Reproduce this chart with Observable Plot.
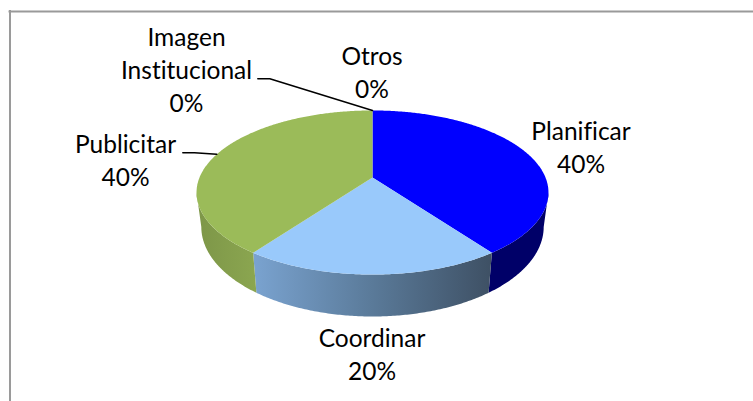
<!DOCTYPE html>
<html>
<head>
<meta charset="utf-8">
<script src="https://cdn.jsdelivr.net/npm/d3@7"></script>
<script src="https://cdn.jsdelivr.net/npm/@observablehq/plot@0.6"></script>
<style>
html,body{margin:0;padding:0;background:#fff;overflow:hidden}
svg{display:block}
svg text{font-variant-ligatures:none;font-weight:400}
</style>
</head>
<body>
<div id="chart"></div>
<script>
// Data
const categories = ["Planificar", "Coordinar", "Publicitar", "Imagen\nInstitucional", "Otros"];
const shares = [40, 20, 40, 0, 0];

// Styles
const topColors = ["#0000ff", "#99c9fb", "#9bbb59", "#7f7f7f", "#7f7f7f"];
const sideColors = ["#000068", "url(#sideCoordinar)", "url(#sidePublicitar)", "#555", "#555"];
const labelCenters = [[580.5, 145.2], [371.5, 352.2], [125, 158.5], [186, 68], [371.5, 70.5]];

// Perspective of the pie disc (page units)
const view = {cx: 372, k: 0.183,
  top: {cy: 177, a: 173, b: 79.3},
  bottom: {cy: 210, a: 168.3, b: 86.6}};
const project = (ring, t) => {
  const u = Math.sin(t), v = -Math.cos(t), w = 1 - view.k * v;
  return {x: view.cx + ring.a * u / w, y: ring.cy + ring.b * v / w};
};
const arcPoints = (ring, t0, t1) => {
  const n = Math.max(1, Math.ceil(Math.abs(t1 - t0) / 0.01));
  return d3.range(n + 1).map(i => project(ring, t0 + (t1 - t0) * i / n));
};

const arcs = d3.pie().sort(null).value(d => d)(shares);
const tMin = Math.acos(-view.k), tMax = 2 * Math.PI - tMin;

const sideMarks = [], topMarks = [];
arcs.forEach((a, i) => {
  if (a.value > 0) {
    const t0 = Math.max(a.startAngle, tMin), t1 = Math.min(a.endAngle, tMax);
    if (t1 > t0) {
      const side = [...arcPoints(view.top, t0, t1), ...arcPoints(view.bottom, t1, t0)];
      sideMarks.push(Plot.line(side, {x: "x", y: "y", fill: sideColors[i], stroke: "none"}));
    }
    const face = [{x: view.cx, y: view.top.cy}, ...arcPoints(view.top, a.startAngle, a.endAngle)];
    topMarks.push(Plot.line(face, {x: "x", y: "y", fill: topColors[i], stroke: "none"}));
  }
});

// Leader lines: from a label elbow to the middle of the slice's rim
const mid = i => project(view.top, (arcs[i].startAngle + arcs[i].endAngle) / 2);
const leaders = [
  [{x: 182.3, y: 152.3}, {x: 194, y: 152.3}, mid(2)],
  [{x: 257.3, y: 78.3}, {x: 269.3, y: 78.3}, mid(3)]
];

const labels = categories.map((c, i) => ({
  text: `${c}\n${shares[i]}%`, x: labelCenters[i][0], y: labelCenters[i][1]
}));

const defs = () => {
  const svgNS = "http://www.w3.org/2000/svg";
  const d = document.createElementNS(svgNS, "defs");
  const grad = (id, stops) => {
    const g = document.createElementNS(svgNS, "linearGradient");
    g.setAttribute("id", id);
    stops.forEach(([o, c]) => {
      const s = document.createElementNS(svgNS, "stop");
      s.setAttribute("offset", o); s.setAttribute("stop-color", c);
      g.appendChild(s);
    });
    d.appendChild(g);
  };
  grad("sideCoordinar", [[0, "#7aa3d0"], [0.5, "#5a7a99"], [1, "#3e5064"]]);
  grad("sidePublicitar", [[0, "#7d9648"], [1, "#8ba650"]]);
  return d;
};

const fontSize = 24.5;
const chart = Plot.plot({
  width: 753, height: 401, margin: 0,
  x: {domain: [0, 753], range: [0, 753], axis: null},
  y: {domain: [0, 401], range: [0, 401], axis: null},
  marks: [
    defs,
    Plot.ruleY([11], {x1: 8.5, x2: 753, stroke: "#9a9a9a", strokeWidth: 2}),
    Plot.ruleX([9.5], {y1: 10, y2: 401, stroke: "#9a9a9a", strokeWidth: 2}),
    ...sideMarks,
    ...topMarks,
    ...leaders.map(l => Plot.line(l, {x: "x", y: "y", stroke: "#000", strokeWidth: 1.5, curve: "linear"})),
    Plot.text(labels, {
      x: "x", y: "y", text: "text", textAnchor: "middle", lineAnchor: "middle",
      fontFamily: "Lato", fontSize, lineHeight: 33 / fontSize, fill: "#000"
    })
  ]
});
document.getElementById("chart").appendChild(chart);
</script>
</body>
</html>
